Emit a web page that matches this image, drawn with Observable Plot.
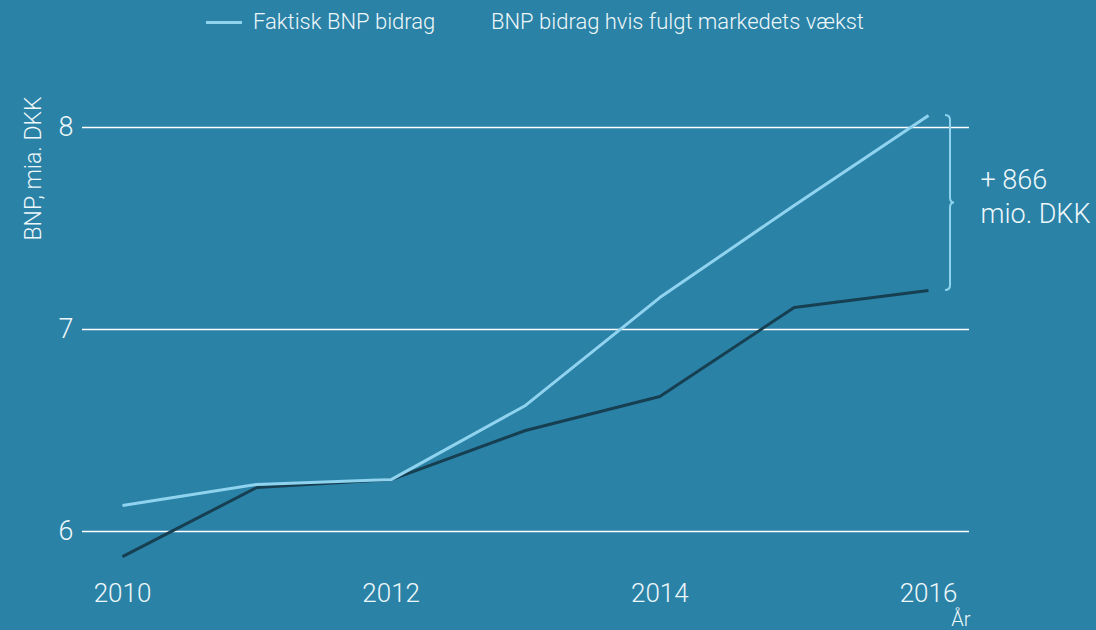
<!DOCTYPE html>
<html><head><meta charset="utf-8">
<script src="https://cdn.jsdelivr.net/npm/d3@7"></script>
<script src="https://cdn.jsdelivr.net/npm/@observablehq/plot@0.6"></script>
<style>
html,body{margin:0;padding:0;background:#2a82a6;overflow:hidden}
body{font-family:Roboto,"Open Sans",sans-serif;font-weight:300;color:#eef7fa;width:1096px;height:630px}
#legend{position:relative;height:45px;font-size:22px}
#legend .sw{position:absolute;top:21px;height:3px}
#legend .lb{position:absolute;top:9px;white-space:nowrap;line-height:26px}
#chart svg{display:block}
</style></head><body>
<div id="legend"></div>
<div id="chart"></div>
<script>
const years = [2010, 2011, 2012, 2013, 2014, 2015, 2016];
const faktisk = [6.129, 6.233, 6.257, 6.624, 7.158, 7.614, 8.059];
const markedsvaekst = [5.876, 6.218, 6.257, 6.500, 6.668, 7.109, 7.193];
const seriesNames = ["Faktisk BNP bidrag", "BNP bidrag hvis fulgt markedets vækst"];
const seriesColors = ["#8fd3ef", "#173f52"];
const xTicks = [2010, 2012, 2014, 2016];
const yTicks = [6, 7, 8];
const yLabel = "BNP, mia. DKK";
const xLabel = "År";

// legend (HTML above the SVG)
const legend = document.getElementById("legend");
legend.innerHTML =
  `<span class="sw" style="left:206px;width:36px;background:${seriesColors[0]}"></span>` +
  `<span class="lb" style="left:253px">${seriesNames[0]}</span>` +
  `<span class="lb" style="left:491px">${seriesNames[1]}</span>`;

const rows = [];
years.forEach((yr, i) => {
  rows.push({year: yr, value: markedsvaekst[i], series: seriesNames[1]});
});
years.forEach((yr, i) => {
  rows.push({year: yr, value: faktisk[i], series: seriesNames[0]});
});

const last = years.length - 1;
const diff = Math.round((faktisk[last] - markedsvaekst[last]) * 1000);
const textColor = "#eef7fa";

function brace(index, scales) {
  const x = scales.x(years[last]) + 22;
  const y1 = scales.y(faktisk[last]);
  const y2 = scales.y(markedsvaekst[last]);
  const ym = (y1 + y2) / 2;
  const r = 5;
  const d = `M${x - 5},${y1} Q${x},${y1} ${x},${y1 + r} L${x},${ym - r} Q${x},${ym} ${x + 4},${ym} ` +
            `Q${x},${ym} ${x},${ym + r} L${x},${y2 - r} Q${x},${y2} ${x - 5},${y2}`;
  const p = d3.create("svg:path")
    .attr("d", d).attr("fill", "none")
    .attr("stroke", seriesColors[0]).attr("stroke-width", 2);
  return p.node();
}

const chart = Plot.plot({
  width: 1096,
  height: 585,
  marginLeft: 82,
  marginRight: 127,
  marginTop: 20,
  marginBottom: 65,
  style: {background: "transparent", color: textColor, fontFamily: "Roboto, 'Open Sans', sans-serif", fontWeight: 300},
  x: {domain: [2010, 2016], range: [122, 928]},
  y: {domain: [6, 8], range: [486, 82]},
  color: {domain: seriesNames, range: seriesColors},
  marks: [
    Plot.ruleY(yTicks, {stroke: "#ffffff", strokeWidth: 1.5, strokeOpacity: 1}),
    Plot.axisY({ticks: yTicks, tickSize: 0, tickPadding: 9, fontSize: 27, label: null, tickFormat: d => String(d)}),
    Plot.axisX({ticks: xTicks, tickSize: 0, tickPadding: 18, fontSize: 26, label: null, tickFormat: d => String(d)}),
    Plot.line(rows, {x: "year", y: "value", z: "series", stroke: "series", strokeWidth: 3, strokeLinejoin: "miter", strokeLinecap: "butt"}),
    brace,
    Plot.text([`+ ${diff}\nmio. DKK`], {
      x: () => years[last], y: () => (faktisk[last] + markedsvaekst[last]) / 2,
      dx: 52, dy: -8, textAnchor: "start", lineAnchor: "middle", lineHeight: 1.26,
      fontSize: 27, fill: textColor
    }),
    Plot.text([yLabel], {frameAnchor: "top-left", dx: -49, dy: 103, rotate: -90, textAnchor: "middle", lineAnchor: "middle", fontSize: 23, fill: textColor}),
    Plot.text([xLabel], {frameAnchor: "bottom-right", dx: 1, dy: 54, textAnchor: "end", lineAnchor: "middle", fontSize: 20, fill: textColor})
  ]
});
document.getElementById("chart").appendChild(chart);
</script>
</body></html>
